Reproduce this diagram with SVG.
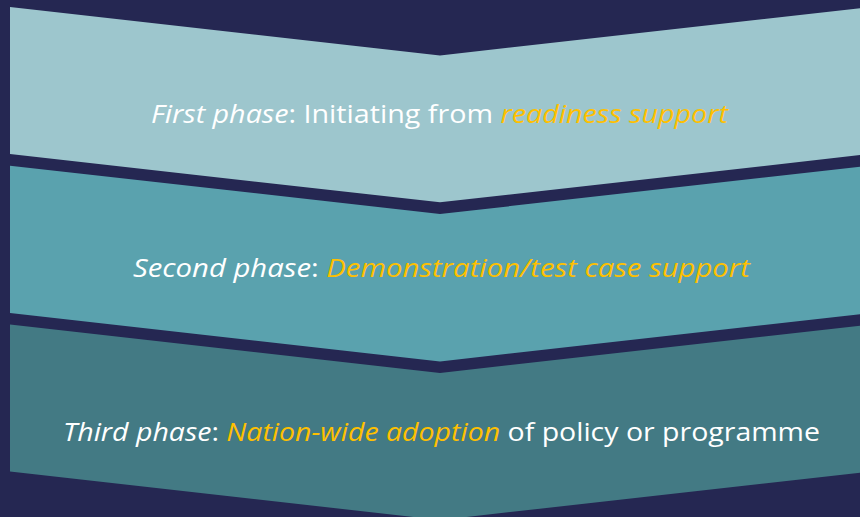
<svg xmlns="http://www.w3.org/2000/svg" width="860" height="517" viewBox="0 0 860 517">
  <style>
    .label { font-family: "Open Sans", "Noto Sans", "Liberation Sans", sans-serif; font-size: 25px; fill: #ffffff; }
    .it { font-style: italic; }
    .hl { fill: #ffc000; }
    .p1 { fill: #9dc6cd; }
    .p2 { fill: #5aa2ae; }
    .p3 { fill: #437a84; }
  </style>
  <rect width="860" height="517" fill="#252752"/>

  <g id="phase1">
    <path class="p1" d="M10,7 L440,55.5 L870,7 L870,154 L440,202.3 L10,154 Z"/>
    <text class="label" x="151" y="122.5" textLength="577" lengthAdjust="spacingAndGlyphs"><tspan class="it">First phase</tspan>: Initiating from <tspan class="it hl">readiness support</tspan></text>
  </g>

  <g id="phase2">
    <path class="p2" d="M10,165.7 L440,214 L870,165.7 L870,313 L440,361.5 L10,313 Z"/>
    <text class="label" x="133" y="276.7" textLength="617" lengthAdjust="spacingAndGlyphs"><tspan class="it">Second phase</tspan>: <tspan class="it hl">Demonstration/test case support</tspan></text>
  </g>

  <g id="phase3">
    <path class="p3" d="M10,324.5 L440,373 L870,324.5 L870,471.5 L440,520 L10,471.5 Z"/>
    <text class="label" x="63" y="440.7" textLength="757" lengthAdjust="spacingAndGlyphs"><tspan class="it">Third phase</tspan>: <tspan class="it hl">Nation-wide adoption</tspan> of policy or programme</text>
  </g>

  <g id="connectors"/>
</svg>
